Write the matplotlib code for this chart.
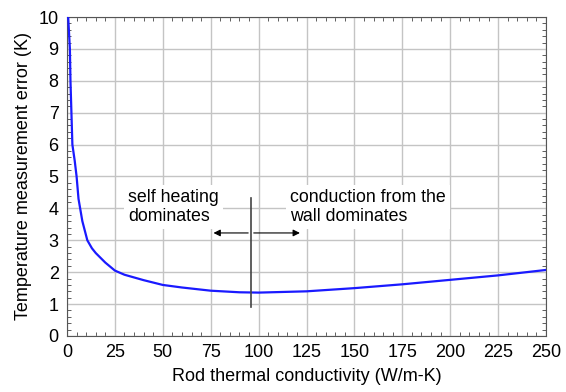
import matplotlib.pyplot as plt
from matplotlib.ticker import MultipleLocator

# values
k_rod = [0.6, 1.5, 1.8, 2.3, 2.8, 4, 5, 6, 8, 10.6, 13, 15, 20, 25, 30, 40, 50, 60,
         75, 90, 100, 125, 150, 175, 200, 225, 250]
err_K = [10, 9, 8, 7, 6, 5.5, 5, 4.3, 3.6, 3.0, 2.75, 2.6, 2.3, 2.05, 1.92, 1.75,
         1.6, 1.52, 1.42, 1.37, 1.36, 1.4, 1.5, 1.62, 1.76, 1.9, 2.07]
x_ticks = [0, 25, 50, 75, 100, 125, 150, 175, 200, 225, 250]
y_ticks = list(range(0, 11))

plt.rcParams['font.family'] = ['Liberation Sans', 'DejaVu Sans']

fig = plt.figure(figsize=(5.66, 3.92), dpi=100)
ax = fig.add_axes([0.1184, 0.1429, 0.8463, 0.8137])

ax.grid(True, color='#c4c4c4', lw=1)
ax.set_axisbelow(True)
ax.plot(k_rod, err_K, color='#1a1aff', lw=1.6, zorder=3)

ax.set_xlim(0, 250)
ax.set_ylim(0, 10)
ax.set_xticks(x_ticks)
ax.set_yticks(y_ticks)
ax.xaxis.set_minor_locator(MultipleLocator(5))
ax.yaxis.set_minor_locator(MultipleLocator(0.2))
ax.tick_params(which='both', direction='in', top=True, right=True, colors='#444444',
               labelcolor='black', labelsize=13)
ax.tick_params(which='major', length=0, pad=6)
ax.tick_params(which='minor', length=3)
for s in ax.spines.values():
    s.set_color('#555555')

ax.set_xlabel('Rod thermal conductivity (W/m-K)', fontsize=13, labelpad=5)
ax.set_ylabel('Temperature measurement error (K)', fontsize=13, labelpad=5)

box = dict(facecolor='white', edgecolor='none', pad=3)
ax.text(32, 4.62, 'self heating\ndominates', fontsize=12.8, va='top', ha='left',
        linespacing=1.2, bbox=box, zorder=4)
ax.text(116.5, 4.62, 'conduction from the\nwall dominates', fontsize=12.8, va='top',
        ha='left', linespacing=1.2, bbox=box, zorder=4)

ax.annotate('', xy=(75, 3.23), xytext=(96, 3.23),
            arrowprops=dict(arrowstyle='-|>', color='black', lw=0.8,
                            mutation_scale=10), zorder=5)
ax.annotate('', xy=(123, 3.23), xytext=(96, 3.23),
            arrowprops=dict(arrowstyle='-|>', color='black', lw=0.8,
                            mutation_scale=10), zorder=5)
ax.plot([96, 96], [0.92, 4.33], color='#444444', lw=1.2, zorder=5)

fig.savefig('out.png')
